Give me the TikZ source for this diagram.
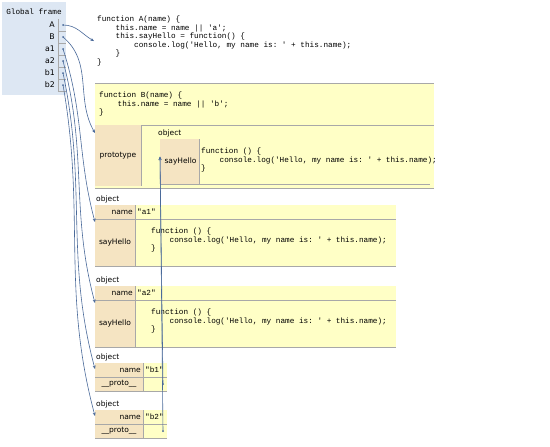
\documentclass[tikz,border=0pt]{standalone}
\usepackage{fontspec}
\setsansfont{DejaVu Sans}
\setmonofont{Liberation Mono}
\usepackage{tikz}
\usetikzlibrary{arrows.meta}

\definecolor{framebg}{HTML}{DDE7F3}
\definecolor{heapbg}{HTML}{FFFFC6}
\definecolor{keybg}{HTML}{F5E4C2}
\definecolor{cellline}{HTML}{A8A8A8}
\definecolor{ptrcol}{HTML}{4A6A9A}

\newcommand\ind{\hspace*{2.4em}}

\begin{document}
\begin{tikzpicture}[
x=1pt, y=-1pt,
cell/.style={anchor=north west, inner sep=0pt, outer sep=0pt},
heap/.style={cell, fill=heapbg},
key/.style={cell, fill=keybg},
rule/.style={draw=cellline, line width=0.5pt},
code/.style={anchor=north west, inner sep=0pt, align=left, font=\ttfamily\fontsize{7.7}{8.5}\selectfont},
lbl/.style={inner sep=0pt, font=\sffamily\fontsize{7.5}{8}\selectfont},
var/.style={anchor=east, inner sep=0pt, font=\sffamily\fontsize{7.8}{8}\selectfont},
dot/.style={circle, fill=ptrcol, inner sep=0pt, minimum size=2pt},
ptr/.style={-{Stealth[length=3.5pt,width=3pt]}, draw=ptrcol, line width=0.6pt}
]
\fill[white] (0,0) rectangle (550,447);
\useasboundingbox (0,0) rectangle (550,447);

% global frame
\node[cell, fill=framebg, minimum width=64pt, minimum height=93pt] (frame) at (2,2) {};
\node[inner sep=0pt, font=\ttfamily\fontsize{7.7}{8}\selectfont] (ftitle) at (34,12) {Global frame};
\foreach \v/\row in {A/25, B/37, a1/49, a2/61, b1/73, b2/85} {
  \node[var] (n\v) at (55,\row) {\v};
  \draw[rule] (58,\row-6) -- (58,\row+6) -- (66,\row+6);
  \node[dot] (d\v) at (63,\row) {};
}

% function A
\node[code] (funA) at (97,16) {function A(name) \{\\
\ind this.name = name || 'a';\\
\ind this.sayHello = function() \{\\
\ind\ind console.log('Hello, my name is: ' + this.name);\\
\ind \}\\
\}};

% function B with its prototype
\node[heap, minimum width=339pt, minimum height=105pt] (funB) at (95,83) {};
\draw[rule] (funB.north west) -- (funB.north east);
\node[code] (funBtxt) at (99,92) {function B(name) \{\\
\ind this.name = name || 'b';\\
\}};
\draw[rule] (95,125) -- (434,125);
\node[key, minimum width=46pt, minimum height=61pt] (protoKey) at (95,125) {};
\node[lbl] at (protoKey.center) {prototype};
\draw[rule] (protoKey.north east) -- (protoKey.south east);
\node[lbl, anchor=west] (protoObj) at (158,133) {object};
\node[key, minimum width=39pt, minimum height=45pt] (sayKey) at (160,139) {};
\node[lbl] at ([xshift=1pt]sayKey.center) {sayHello};
\draw[rule] (sayKey.north east) -- (sayKey.south east);
\node[code] (sayFun) at (201,148) {function () \{\\
\ind console.log('Hello, my name is: ' + this.name);\\
\}};
\draw[rule] (sayKey.south west) -- (430,184);
\draw[rule] (funB.south west) -- (funB.south east);

% objects a1, a2
\foreach \nm/\top in {a1/205, a2/286} {
  \node[lbl, anchor=south west] (obj\nm) at (96,\top-2) {object};
  \node[heap, minimum width=301pt, minimum height=61pt] (box\nm) at (95,\top) {};
  \node[key, minimum width=40pt, minimum height=14pt] (nameKey\nm) at (95,\top) {};
  \node[lbl, anchor=east] at ([xshift=-2pt]nameKey\nm.east) {name};
  \node[code, anchor=west] at ([xshift=2pt]nameKey\nm.east) {"\nm"};
  \node[key, minimum width=40pt, minimum height=47pt] (sayKey\nm) at (nameKey\nm.south west) {};
  \node[lbl] at (sayKey\nm.center) {sayHello};
  \node[code] at (151,\top+23) {function () \{\\
  \ind console.log('Hello, my name is: ' + this.name);\\
  \}};
  \draw[rule] (nameKey\nm.south west) -- (396,\top+14);
  \draw[rule] (box\nm.south west) -- (box\nm.south east);
  \draw[rule] (nameKey\nm.north east) -- (sayKey\nm.south east);
}

% objects b1, b2
\foreach \nm/\top in {b1/363, b2/410} {
  \node[lbl, anchor=south west] (obj\nm) at (96,\top-2) {object};
  \node[key, minimum width=48pt, minimum height=14pt] (nameKey\nm) at (95,\top) {};
  \node[heap, minimum width=24pt, minimum height=14pt] (nameVal\nm) at (143,\top) {};
  \node[key, minimum width=48pt, minimum height=14pt] (protoKey\nm) at (95,\top+14) {};
  \node[heap, minimum width=24pt, minimum height=14pt] (protoVal\nm) at (143,\top+14) {};
  \node[lbl, anchor=east] at ([xshift=-2pt]nameKey\nm.east) {name};
  \node[code, anchor=west] at ([xshift=2pt]nameVal\nm.west) {"\nm"};
  \node[lbl] at (protoKey\nm.center) {\_\_proto\_\_};
  \node[dot] (p\nm) at ([xshift=-4pt]protoVal\nm.east) {};
  \draw[rule] (nameKey\nm.south west) -- (nameVal\nm.south east);
  \draw[rule] (protoKey\nm.south west) -- (protoVal\nm.south east);
  \draw[rule] (nameKey\nm.north east) -- (protoKey\nm.south east);
}

% pointers
\draw[ptr] (dA.center) to[out=0, in=150] ([xshift=-3pt]funA.west);
\draw[ptr] (dB.center) to[out=-40, in=120] ([yshift=-8pt]protoKey.north west);
\draw[ptr] (da1.center) to[out=-72, in=105] ([yshift=-3pt]sayKeya1.north west);
\draw[ptr] (da2.center) to[out=-75, in=105] ([yshift=-3pt]sayKeya2.north west);
\draw[ptr] (db1.center) to[out=-78, in=105] ([yshift=-6pt]nameKeyb1.north west);
\draw[ptr] (db2.center) to[out=-80, in=105] ([yshift=-6pt]nameKeyb2.north west);
\draw[ptr] (pb1.center) -- ([yshift=5pt]sayKey.west);
\draw[ptr] (pb2.center) -- ([yshift=5pt]sayKey.west);
\end{tikzpicture}
\end{document}
